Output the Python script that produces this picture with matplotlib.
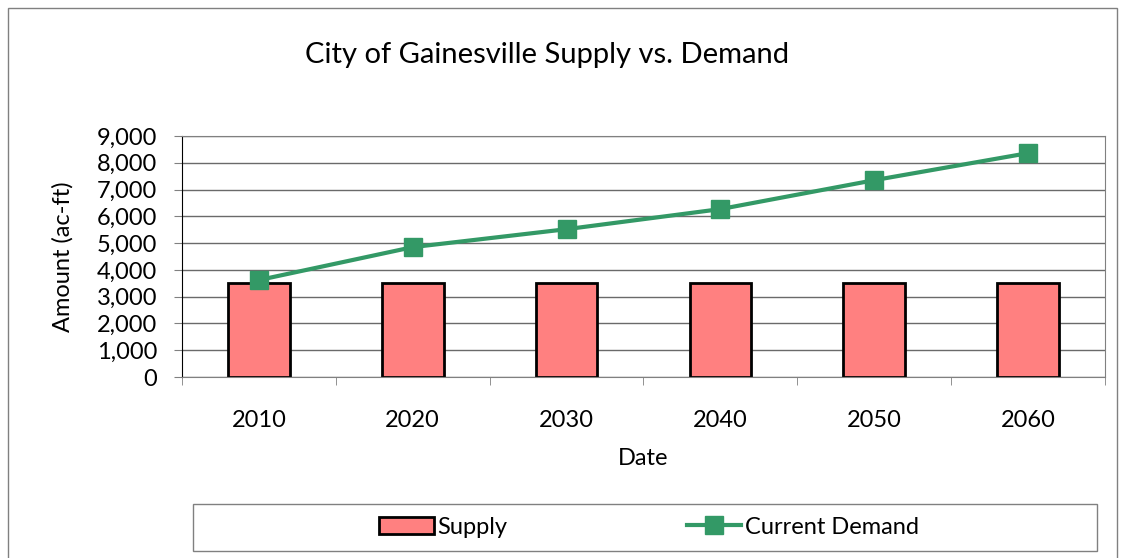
import numpy as np
import matplotlib.pyplot as plt
from matplotlib.patches import Rectangle

years = ['2010', '2020', '2030', '2040', '2050', '2060']
supply = [3500, 3500, 3500, 3500, 3500, 3500]
demand = [3620, 4850, 5520, 6270, 7350, 8360]

plt.rcParams['font.family'] = ['Lato', 'DejaVu Sans']

W, H = 1125, 558
fig = plt.figure(figsize=(W / 100, H / 100), dpi=100)
# outer chart frame
fig.patches.append(Rectangle((8 / W, -0.01), 1109 / W, 1 - 8 / H + 0.01,
                             transform=fig.transFigure, fill=False,
                             edgecolor='#808080', lw=1))

ax = fig.add_axes([182 / W, 1 - 377 / H, (1105 - 182) / W, (377 - 136) / H])
x = np.arange(len(years))
bars = ax.bar(x, supply, width=0.4, color='#FF8080', edgecolor='black', lw=2,
              label='Supply', zorder=2)
line, = ax.plot(x, demand, color='#339966', lw=3, marker='s', ms=12.5,
                label='Current Demand', zorder=3)

ax.set_xlim(-0.5, len(years) - 0.5)
ax.set_ylim(0, 9000)
ax.set_yticks(np.arange(0, 9001, 1000))
ax.set_yticklabels([f'{v:,}' for v in range(0, 9001, 1000)], fontsize=17)
ax.set_xticks(x)
ax.set_xticklabels(years, fontsize=17)
ax.set_xticks(np.arange(-0.5, len(years), 1), minor=True)
ax.tick_params(axis='x', which='major', length=0, pad=24)
ax.tick_params(axis='x', which='minor', length=6, direction='out', color='#808080')
ax.tick_params(axis='y', length=6, direction='out', color='#808080', pad=12)
ax.grid(axis='y', color='#6a6a6a', lw=1, zorder=1)
for s in ['top', 'right', 'bottom']:
    ax.spines[s].set_color('#808080')
ax.spines['left'].set_color('black')

ax.set_xlabel('Date', fontsize=17)
ax.xaxis.set_label_coords(0.5, (377 - 448) / 241)
ax.set_ylabel('Amount (ac-ft)', fontsize=17, va='center')
ax.yaxis.set_label_coords((63 - 182) / 923, 0.5)
fig.text(547 / W, 1 - 55 / H, 'City of Gainesville Supply vs. Demand',
         fontsize=21, ha='center', va='center')

# legend box across the bottom
fig.patches.append(Rectangle((193 / W, 1 - 551 / H), (1097 - 193) / W, 47 / H,
                             transform=fig.transFigure, fill=False,
                             edgecolor='#808080', lw=1))
fig.legend([bars, line], ['Supply', 'Current Demand'], loc='center',
           bbox_to_anchor=(649 / W, 1 - 527 / H), ncol=2,
           fontsize=17, frameon=False, columnspacing=7.6, handlelength=2.3,
           handletextpad=0.15)

fig.savefig('out.png', dpi=100)
